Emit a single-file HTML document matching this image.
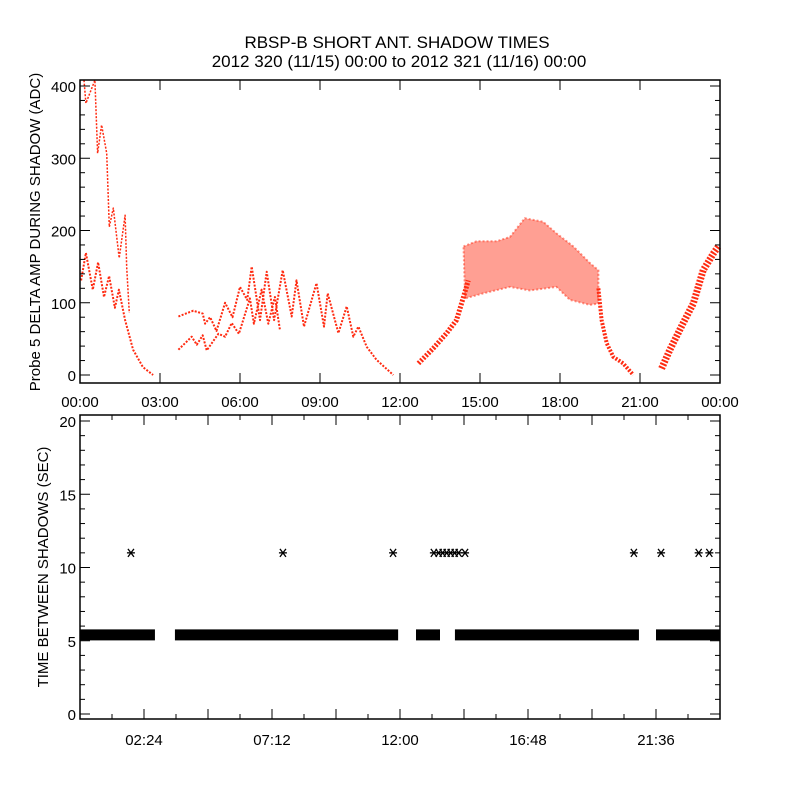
<!DOCTYPE html>
<html><head><meta charset="utf-8"><style>
body{margin:0;background:#fff}
svg{display:block;font-family:"Liberation Sans",sans-serif}
</style></head><body>
<svg id="chart" width="800" height="800" viewBox="0 0 800 800">
<rect width="800" height="800" fill="#fff"/>
<text x="397" y="48" text-anchor="middle" font-size="17">RBSP-B SHORT ANT. SHADOW TIMES</text>
<text x="399" y="67" text-anchor="middle" font-size="17">2012 320 (11/15) 00:00 to 2012 321 (11/16) 00:00</text>
<g id="topPanel"></g>
<g id="botPanel"></g>
</svg>
<script>
// ---- top panel data (hours, ADC) ----
const earlyLowH=[0.04,0.22,0.48,0.68,0.9,1.09,1.31,1.46,1.69,1.99,2.36,2.74];
const earlyLowV=[131,169,118,156,108,137,93,118,76,35,11,0];
const earlyHighH=[0.15,0.22,0.56,0.66,0.81,1.0,1.1,1.25,1.47,1.69,1.75,1.85];
const earlyHighV=[408,376,408,307,346,307,205,231,162,221,149,86];
const midUpH=[3.69,4.25,4.6,4.69,4.88,5.12,5.44,5.72,6.0,6.27,6.44,6.75,7.0,7.28,7.6,7.94,8.12,8.4,8.87,9.15,9.29,9.69,10.0,10.25,10.44,10.75,11.12,11.75];
const midUpV=[81,89,85,71,80,61,100,80,122,104,150,76,143,76,145,81,131,67,127,67,113,58,95,53,67,39,21,0];
const midLowH=[3.69,4.19,4.38,4.6,4.75,5.19,5.44,5.69,5.96,6.37,6.52,6.81,7.06,7.31,7.5];
const midLowV=[35,53,42,55,34,57,53,72,57,106,71,118,71,108,62];
const riseH=[12.69,13.25,13.75,14.12,14.38,14.56];
const riseV=[16,37,58,76,108,131];
const bandH=[14.38,14.87,15.62,16.12,16.68,17.37,17.87,18.5,19.12,19.44];
const bandTop=[178,185,185,191,217,212,196,178,155,145];
const bandLowH=[14.44,15.12,16.12,16.87,17.87,18.37,19.12,19.44];
const bandLow=[106,113,122,117,122,104,97,99];
const fallH=[19.44,19.56,19.75,20.0,20.37,20.75];
const fallV=[120,76,44,25,16,0];
const lateH=[21.81,22.12,22.62,23.0,23.37,23.75,23.94];
const lateV=[9,35,72,99,145,168,178];
const topYTicks=[0,100,200,300,400];
const topXLabels=["00:00","03:00","06:00","09:00","12:00","15:00","18:00","21:00","00:00"];
// ---- bottom panel data ----
const segStart=[0,3.56,12.6,14.06,21.6];
const segEnd=[2.81,11.93,13.5,20.96,24];
const segValue=[5.4,5.4,5.4,5.4,5.4];
const starH=[1.91,7.61,11.74,13.27,13.45,13.6,13.75,13.9,14.05,14.2,14.44,20.77,21.79,23.2,23.6];
const starV=[11,11,11,11,11,11,11,11,11,11,11,11,11,11,11];
const botYTicks=[0,5,10,15,20];
const botXLabels=["02:24","07:12","12:00","16:48","21:36"];

const NS="http://www.w3.org/2000/svg";
function mk(p,tag,attrs){const e=document.createElementNS(NS,tag);for(const k in attrs)e.setAttribute(k,attrs[k]);p.appendChild(e);return e;}
const L=80,R=720;
const xS=h=>L+h/24*(R-L);
const yT=v=>375-v*0.7225;
const yB=v=>714-v*14.65;
const gTop=document.getElementById('topPanel'),gBot=document.getElementById('botPanel');
const RED="#ff2a10";
function line(H,V,w,name){
  const pts=H.map((h,i)=>xS(h).toFixed(1)+","+yT(V[i]).toFixed(1)).join(" ");
  const e=mk(gTop,'polyline',{points:pts,fill:'none',stroke:RED,'stroke-width':w,'stroke-linejoin':'round','stroke-dasharray':'2 1.5'});
  
  
}
line(earlyLowH,earlyLowV,2,'early-lower-series');
line(earlyHighH,earlyHighV,1.5,'early-upper-series');
line(midUpH,midUpV,2,'midday-upper-series');
line(midLowH,midLowV,2,'midday-lower-series');
line(riseH,riseV,5,'afternoon-rise-series');
line(fallH,fallV,4,'evening-fall-series');
line(lateH,lateV,7,'late-rise-series');
{
  const pts=bandH.map((h,i)=>xS(h).toFixed(1)+","+yT(bandTop[i]).toFixed(1));
  for(let i=bandLowH.length-1;i>=0;i--)pts.push(xS(bandLowH[i]).toFixed(1)+","+yT(bandLow[i]).toFixed(1));
  const e=mk(gTop,'polygon',{points:pts.join(" "),fill:RED,'fill-opacity':0.45,stroke:RED,'stroke-opacity':0.5,'stroke-width':2,'stroke-dasharray':'2 2'});
  
  
}
function frame(g,y0,y1,name){
  const e=mk(g,'rect',{x:L,y:y0,width:R-L,height:y1-y0,fill:'none',stroke:'#000','stroke-width':1.5});
  
  
}
frame(gTop,80,383,'top-plot-frame');
for(let v=0;v<=400;v+=20){
  const y=yT(v),len=(v%100===0)?10:5;
  mk(gTop,'line',{x1:L,x2:L+len,y1:y,y2:y,stroke:'#000'});
  mk(gTop,'line',{x1:R,x2:R-len,y1:y,y2:y,stroke:'#000'});
}
topYTicks.forEach(v=>{
  const t=mk(gTop,'text',{x:L-4,y:yT(v)+6,'text-anchor':'end','font-size':15});
  t.textContent=v;
  
  
});
topXLabels.forEach((s,i)=>{
  const x=xS(i*3);
  mk(gTop,'line',{x1:x,x2:x,y1:383,y2:373,stroke:'#000'});
  mk(gTop,'line',{x1:x,x2:x,y1:80,y2:90,stroke:'#000'});
  const t=mk(gTop,'text',{x:x,y:407,'text-anchor':'middle','font-size':15});
  t.textContent=s;
  
  
});
{
  const t=mk(gTop,'text',{transform:'translate(40,232) rotate(-90)','text-anchor':'middle','font-size':15});
  t.textContent='Probe 5 DELTA AMP DURING SHADOW (ADC)';
  
  
}
segStart.forEach((s,i)=>{
  const y=yB(segValue[i]);
  const e=mk(gBot,'rect',{x:xS(s),y:y-5.5,width:xS(segEnd[i])-xS(s),height:11,fill:'#000'});
  
  
});
starH.forEach((h,i)=>{
  const cx=xS(h),cy=yB(starV[i]);
  const g=mk(gBot,'g',{stroke:'#000','stroke-width':1.3});
  
  
  mk(g,'line',{x1:cx-4,x2:cx+4,y1:cy,y2:cy});
  mk(g,'line',{x1:cx-3,x2:cx+3,y1:cy-4,y2:cy+4});
  mk(g,'line',{x1:cx-3,x2:cx+3,y1:cy+4,y2:cy-4});
});
frame(gBot,415,719,'bottom-plot-frame');
for(let v=0;v<=20;v+=1){
  const y=yB(v),len=(v%5===0)?10:5;
  mk(gBot,'line',{x1:L,x2:L+len,y1:y,y2:y,stroke:'#000'});
  mk(gBot,'line',{x1:R,x2:R-len,y1:y,y2:y,stroke:'#000'});
}
botYTicks.forEach(v=>{
  const t=mk(gBot,'text',{x:L-4,y:yB(v)+6,'text-anchor':'end','font-size':15});
  t.textContent=v;
  
  
});
for(let k=1;k<20;k++){
  const x=xS(k*1.2),len=(k%2===0)?10:5;
  mk(gBot,'line',{x1:x,x2:x,y1:719,y2:719-len,stroke:'#000'});
  mk(gBot,'line',{x1:x,x2:x,y1:415,y2:415+len,stroke:'#000'});
}
botXLabels.forEach((s,i)=>{
  const t=mk(gBot,'text',{x:xS((i*2+1)*2.4),y:745,'text-anchor':'middle','font-size':15});
  t.textContent=s;
  
  
});
{
  const t=mk(gBot,'text',{transform:'translate(48,567) rotate(-90)','text-anchor':'middle','font-size':15});
  t.textContent='TIME BETWEEN SHADOWS (SEC)';
  
  
}
</script>
</body></html>
